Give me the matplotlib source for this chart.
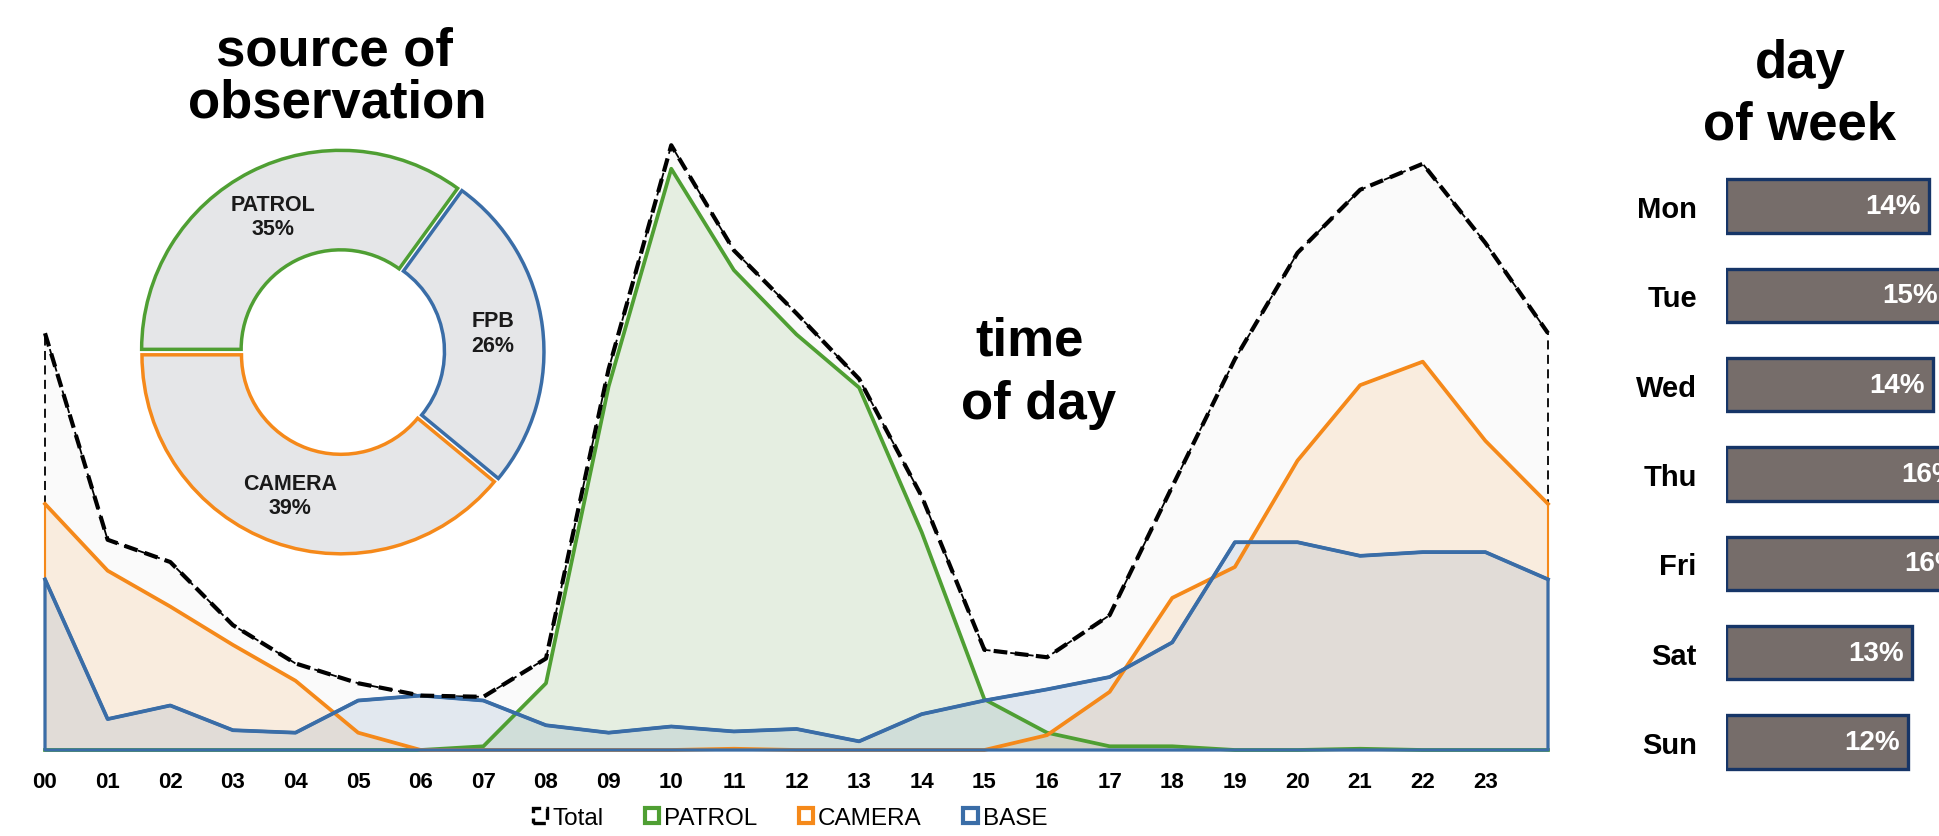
import matplotlib
matplotlib.use("Agg")
import matplotlib.pyplot as plt
import numpy as np
from matplotlib.patches import Patch

plt.rcParams['font.family'] = ['Liberation Sans', 'DejaVu Sans']

# time of day: hours 00..23 plus the wrap-around back to 00
hours = list(range(25))
hour_labels = [f"{h:02d}" for h in range(24)]
patrol = [0, 0, 0, 0, 0, 0, 0, 3, 54, 294, 470, 388, 336, 293, 176, 41,
          14, 3, 3, 0, 0, 1, 0, 0, 0]
camera = [199, 145, 116, 85, 56, 14, 0, 0, 0, 0, 0, 1, 0, 0, 0, 0,
          12, 47, 123, 148, 234, 295, 314, 250, 199]
base = [138, 25, 36, 16, 14, 40, 44, 40, 20, 14, 19, 15, 17, 7, 29, 40,
        49, 59, 87, 168, 168, 157, 160, 160, 138]

# source of observation
sources = ["PATROL", "FPB", "CAMERA"]
source_share = [35, 26, 39]

# day of week
days = ["Mon", "Tue", "Wed", "Thu", "Fri", "Sat", "Sun"]
day_share = [13.7, 14.9, 14.0, 16.15, 16.35, 12.6, 12.3]

GREEN = '#4f9f33'
ORANGE = '#f5891a'
BLUE = '#3a6da7'

W, H = 1940, 837
fig = plt.figure(figsize=(W / 100, H / 100), dpi=100)


def fx(px):
    return px / W


def fy(py):
    return 1 - py / H


# ---- time of day area chart ----
ax = fig.add_axes([fx(45), fy(751), fx(1548 - 45), (751 - 145) / H])
total = np.array(patrol) + np.array(camera) + np.array(base)

ax.fill_between(hours, total, color='#fafafa', edgecolor='black',
                linewidth=1.3, linestyle=(0, (5, 3)), clip_on=False)
ax.fill_between(hours, patrol, color=GREEN, alpha=0.12, clip_on=False)
ax.fill_between(hours, camera, color=ORANGE, alpha=0.12, clip_on=False)
ax.fill_between(hours, base, color=BLUE, alpha=0.12, clip_on=False)
ax.fill_between(hours, camera, facecolor='none', edgecolor=ORANGE,
                linewidth=1.5, clip_on=False)

ax.plot(hours, patrol, color=GREEN, lw=2.7, clip_on=False, zorder=2)
ax.plot(hours, camera, color=ORANGE, lw=2.7, clip_on=False, zorder=2.1)
# base outline (incl. the baseline) sits on top of the other series
ax.fill_between(hours, base, facecolor='none', edgecolor=BLUE,
                linewidth=2.3, clip_on=False, zorder=2.2)
ax.plot(hours, base, color=BLUE, lw=2.7, clip_on=False, zorder=2.3)
ax.plot(hours, total, color='black', lw=3.0, dashes=(3.3, 1.8), clip_on=False, zorder=2.4)

ax.set_xlim(0, 24)
ax.set_ylim(0, 490)
ax.set_xticks(range(24))
ax.set_xticklabels(hour_labels, fontsize=16, fontweight='bold')
ax.tick_params(axis='x', length=0, pad=15)
ax.set_yticks([])
for s in ax.spines.values():
    s.set_visible(False)
ax.patch.set_alpha(0)

handles = [
    Patch(facecolor='white', edgecolor='black', linewidth=2.4, linestyle='--', label='Total'),
    Patch(facecolor='white', edgecolor=GREEN, linewidth=3, label='PATROL'),
    Patch(facecolor='white', edgecolor=ORANGE, linewidth=3, label='CAMERA'),
    Patch(facecolor='white', edgecolor=BLUE, linewidth=3, label='BASE'),
]
fig.legend(handles=handles, loc='center', bbox_to_anchor=(fx(790), fy(819)),
           ncol=4, frameon=False, fontsize=17.5,
           handlelength=0.6, handleheight=0.6, handletextpad=0.2,
           columnspacing=1.7)

fig.text(fx(1030), fy(356), "time", fontsize=38, fontweight='bold', ha='center', va='baseline')
fig.text(fx(1039), fy(419), "of day", fontsize=38, fontweight='bold', ha='center', va='baseline')

# ---- source of observation donut ----
r = 199
axp = fig.add_axes([fx(342 - r), fy(353 + r), 2 * r / W, 2 * r / H])
wedges, texts = axp.pie(source_share, labels=[f"{s}\n{v}%" for s, v in zip(sources, source_share)],
                        startangle=180, counterclock=False, radius=1,
                        labeldistance=0.75, explode=[0.015] * 3,
                        wedgeprops=dict(width=0.5, facecolor='#e5e6e8', linewidth=2.5),
                        textprops=dict(fontsize=15.5, color='#1a1a1a', fontweight='bold'))
for w, c in zip(wedges, [GREEN, BLUE, ORANGE]):
    w.set_edgecolor(c)
for t in texts:
    t.set_ha('center')
    t.set_va('center')
    t.set_linespacing(1.2)
axp.set_xlim(-1, 1)
axp.set_ylim(-1, 1)
axp.set_aspect('auto')
axp.axis('off')

fig.text(fx(334), fy(65), "source of", fontsize=38, fontweight='bold', ha='center', va='baseline')
fig.text(fx(337), fy(118), "observation", fontsize=38, fontweight='bold', ha='center', va='baseline')

# ---- day of week bars ----
spacing = (743 - 207) / 6
axb = fig.add_axes([fx(1726), fy(743 + spacing / 2), fx(W - 1726), 7 * spacing / H])
ypos = np.arange(len(days))
axb.barh(ypos, day_share, height=0.6, color='#766d6a', edgecolor='#163567', linewidth=2.4)
axb.set_xlim(0, (W - 1726) / 14.8)
axb.set_ylim(6.5, -0.5)
axb.set_yticks(ypos)
axb.set_yticklabels(days, fontsize=21, fontweight='bold')
axb.tick_params(axis='y', length=0, pad=21)
axb.set_xticks([])
for s in axb.spines.values():
    s.set_visible(False)
for i, v in enumerate(day_share):
    axb.annotate(f"{round(v)}%", (v, i), xytext=(-6, 0), textcoords='offset points',
                 ha='right', va='center', color='white', fontsize=20,
                 fontweight='bold', annotation_clip=False)

fig.text(fx(1800), fy(78), "day", fontsize=38, fontweight='bold', ha='center', va='baseline')
fig.text(fx(1800), fy(140), "of week", fontsize=38, fontweight='bold', ha='center', va='baseline')

fig.savefig("out.png", dpi=100)
